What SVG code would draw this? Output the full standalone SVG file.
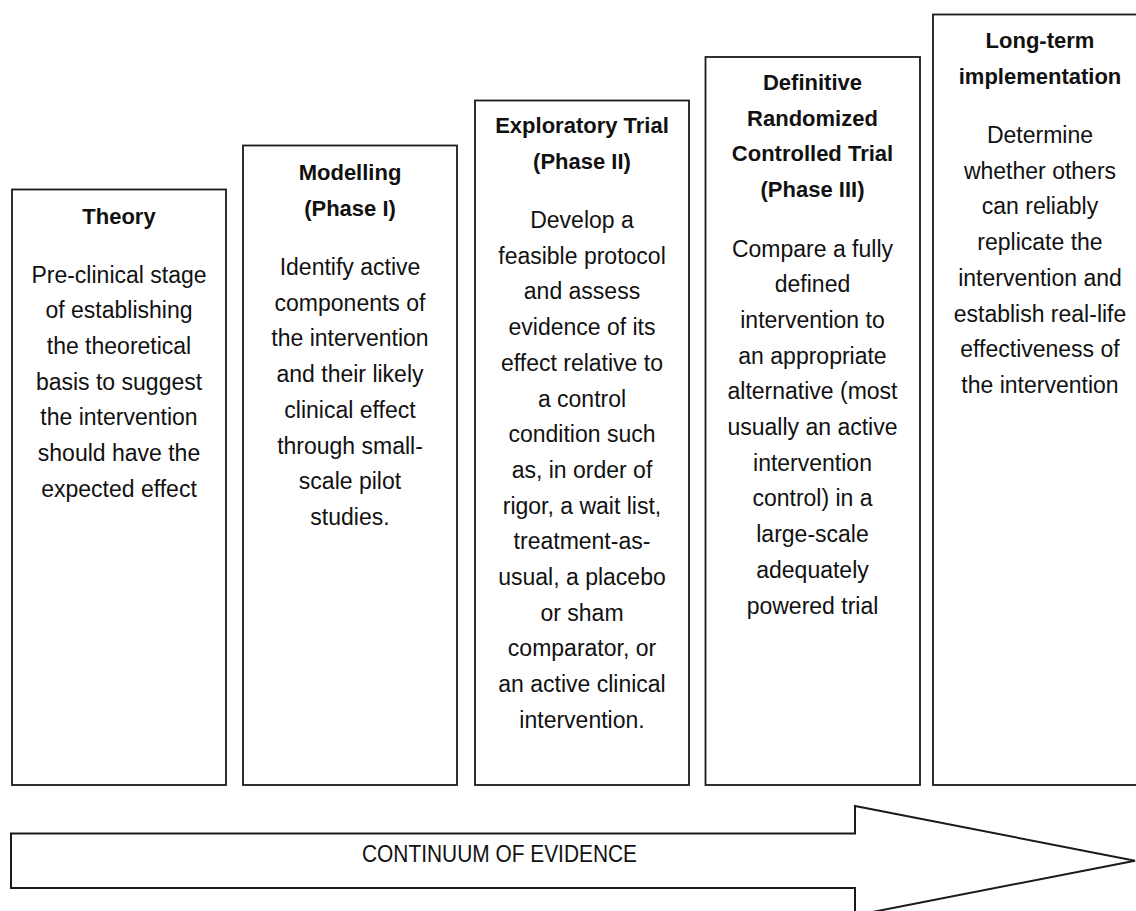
<svg xmlns="http://www.w3.org/2000/svg" width="1136" height="911" viewBox="0 0 1136 911">
<style>
.box{fill:#fff;stroke:#1a1a1a;stroke-width:1.8}
.t{font-family:"Liberation Sans",Arial,sans-serif;font-size:22px;font-weight:bold;fill:#111;text-anchor:middle}
.b{font-family:"Liberation Sans",Arial,sans-serif;font-size:23px;fill:#111;text-anchor:middle}
.arrow{fill:#fff;stroke:#1a1a1a;stroke-width:2}
.lbl{font-family:"Liberation Sans",Arial,sans-serif;font-size:24px;fill:#111;text-anchor:middle}
</style>
<rect width="1136" height="911" fill="#fff"/>
<g id="theory">
<rect class="box" x="12" y="189.5" width="214" height="595.5"/>
<text class="t" x="119" y="223.5">Theory</text>
<text class="b" x="119" y="282.5">Pre-clinical stage</text>
<text class="b" x="119" y="318.2">of establishing</text>
<text class="b" x="119" y="353.9">the theoretical</text>
<text class="b" x="119" y="389.6">basis to suggest</text>
<text class="b" x="119" y="425.3">the intervention</text>
<text class="b" x="119" y="461">should have the</text>
<text class="b" x="119" y="496.7">expected effect</text>
</g>
<g id="modelling">
<rect class="box" x="243" y="145.5" width="214" height="639.5"/>
<text class="t" x="350" y="180">Modelling</text>
<text class="t" x="350" y="215.5">(Phase I)</text>
<text class="b" x="350" y="275">Identify active</text>
<text class="b" x="350" y="310.7">components of</text>
<text class="b" x="350" y="346.4">the intervention</text>
<text class="b" x="350" y="382.1">and their likely</text>
<text class="b" x="350" y="417.8">clinical effect</text>
<text class="b" x="350" y="453.5">through small-</text>
<text class="b" x="350" y="489.2">scale pilot</text>
<text class="b" x="350" y="524.9">studies.</text>
</g>
<g id="exploratory">
<rect class="box" x="475" y="100.5" width="214" height="684.5"/>
<text class="t" x="582" y="133">Exploratory Trial</text>
<text class="t" x="582" y="168.5">(Phase II)</text>
<text class="b" x="582" y="228">Develop a</text>
<text class="b" x="582" y="263.7">feasible protocol</text>
<text class="b" x="582" y="299.4">and assess</text>
<text class="b" x="582" y="335.1">evidence of its</text>
<text class="b" x="582" y="370.8">effect relative to</text>
<text class="b" x="582" y="406.5">a control</text>
<text class="b" x="582" y="442.2">condition such</text>
<text class="b" x="582" y="477.9">as, in order of</text>
<text class="b" x="582" y="513.6">rigor, a wait list,</text>
<text class="b" x="582" y="549.3">treatment-as-</text>
<text class="b" x="582" y="585">usual, a placebo</text>
<text class="b" x="582" y="620.7">or sham</text>
<text class="b" x="582" y="656.4">comparator, or</text>
<text class="b" x="582" y="692.1">an active clinical</text>
<text class="b" x="582" y="727.8">intervention.</text>
</g>
<g id="definitive">
<rect class="box" x="705.5" y="57" width="214.5" height="728"/>
<text class="t" x="812.5" y="90">Definitive</text>
<text class="t" x="812.5" y="125.5">Randomized</text>
<text class="t" x="812.5" y="161">Controlled Trial</text>
<text class="t" x="812.5" y="196.5">(Phase III)</text>
<text class="b" x="812.5" y="256.5">Compare a fully</text>
<text class="b" x="812.5" y="292.2">defined</text>
<text class="b" x="812.5" y="327.9">intervention to</text>
<text class="b" x="812.5" y="363.6">an appropriate</text>
<text class="b" x="812.5" y="399.3">alternative (most</text>
<text class="b" x="812.5" y="435">usually an active</text>
<text class="b" x="812.5" y="470.7">intervention</text>
<text class="b" x="812.5" y="506.4">control) in a</text>
<text class="b" x="812.5" y="542.1">large-scale</text>
<text class="b" x="812.5" y="577.8">adequately</text>
<text class="b" x="812.5" y="613.5">powered trial</text>
</g>
<g id="longterm">
<rect class="box" x="933" y="14.5" width="220" height="770.5"/>
<text class="t" x="1040" y="48">Long-term</text>
<text class="t" x="1040" y="83.5">implementation</text>
<text class="b" x="1040" y="143">Determine</text>
<text class="b" x="1040" y="178.7">whether others</text>
<text class="b" x="1040" y="214.4">can reliably</text>
<text class="b" x="1040" y="250.1">replicate the</text>
<text class="b" x="1040" y="285.8">intervention and</text>
<text class="b" x="1040" y="321.5">establish real-life</text>
<text class="b" x="1040" y="357.2">effectiveness of</text>
<text class="b" x="1040" y="392.9">the intervention</text>
</g>
<g id="connectors">
<g id="continuum">
<polygon class="arrow" points="11,833.5 855,833.5 855,806 1135,860.7 855,915.4 855,888 11,888"/>
<text class="lbl" x="499.5" y="861.5" textLength="275" lengthAdjust="spacingAndGlyphs">CONTINUUM OF EVIDENCE</text>
</g>
</g>
</svg>
